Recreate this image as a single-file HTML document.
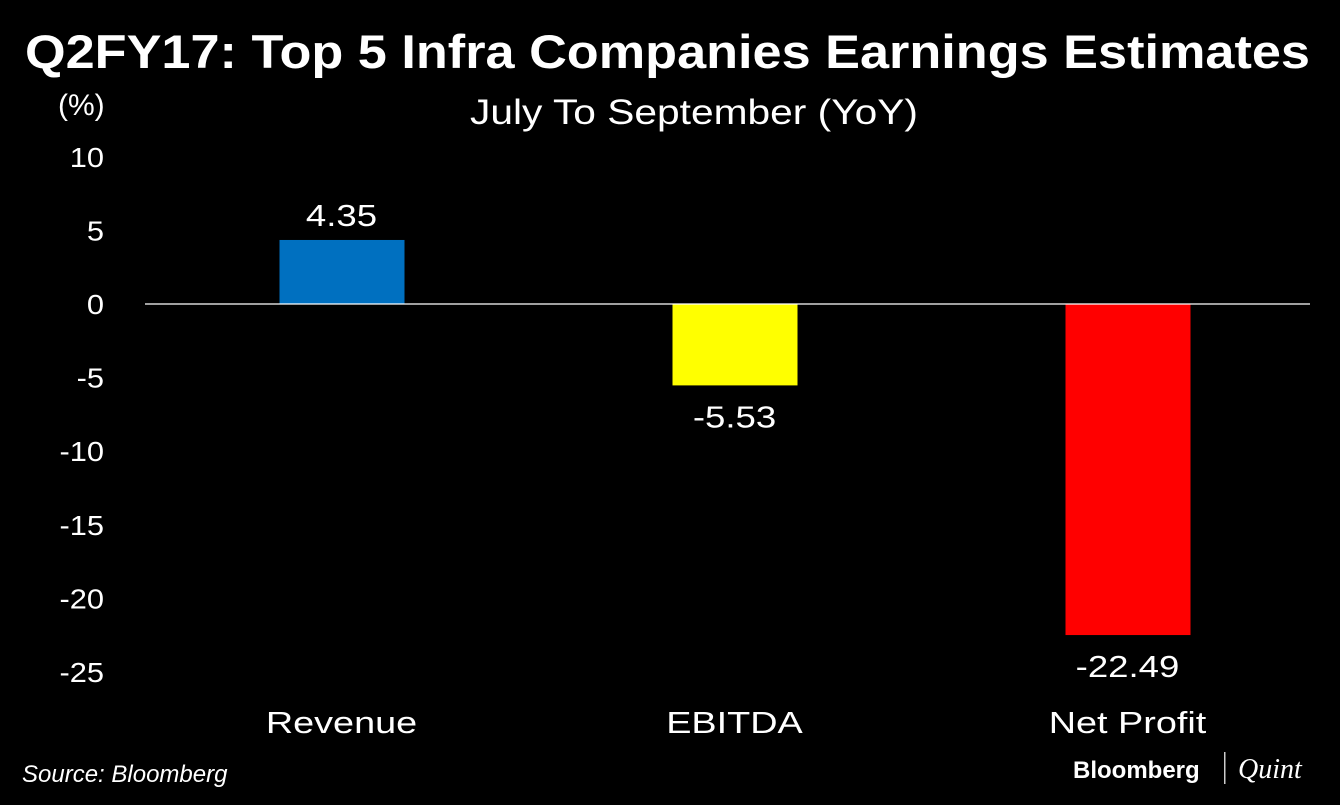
<!DOCTYPE html>
<html><head><meta charset="utf-8"><style>
body{margin:0;background:#000;width:1340px;height:800px;overflow:hidden}
svg text{font-family:"Liberation Sans",sans-serif;fill:#fff}
</style></head><body>
<svg id="c" width="1340" height="800">
<rect width="1340" height="800" fill="#000"/>
<text x="25" y="68" font-size="47" font-weight="bold" textLength="1285" lengthAdjust="spacingAndGlyphs">Q2FY17: Top 5 Infra Companies Earnings Estimates</text>
<text x="470" y="124" font-size="35" textLength="448" lengthAdjust="spacingAndGlyphs">July To September (YoY)</text>
<text x="58" y="115" font-size="30">(%)</text>
<text x="22" y="782" font-size="24" font-style="italic">Source: Bloomberg</text>
<text x="1073" y="778" font-size="24" font-weight="bold">Bloomberg</text>
<rect x="1224" y="752" width="1.5" height="32" fill="#ccc"/>
<text x="1238" y="778" font-size="28" font-style="italic" style="font-family:'Liberation Serif',serif">Quint</text>
<g id="plot"></g>
</svg>
<script>
const categories=["Revenue","EBITDA","Net Profit"];
const values=[4.35,-5.53,-22.49];
const labels=["4.35","-5.53","-22.49"];
const colors=["#0070c0","#ffff00","#ff0000"];
const ticks=[10,5,0,-5,-10,-15,-20,-25];
const ns="http://www.w3.org/2000/svg";
const g=document.getElementById('plot');
const y=v=>304-v*14.72;
const x0=145,bw=393;
const xc=i=>x0+bw*(i+0.5);
function mk(t,a){const e=document.createElementNS(ns,t);for(const k in a)e.setAttribute(k,a[k]);g.appendChild(e);return e;}
ticks.forEach(t=>{const e=mk('text',{x:104,y:y(t)+10,'text-anchor':'end','font-size':28,'transform':'scale(1.1,1)','transform-origin':'104 0'});e.textContent=t;

});
values.forEach((v,i)=>{
const top=Math.min(y(v),y(0)),h=Math.abs(y(v)-y(0));
const r=mk('rect',{x:xc(i)-62,y:top,width:125,height:h,fill:colors[i]});


const ly=v>=0?y(v)-14:y(v)+42;
const t=mk('text',{x:xc(i),y:ly,'text-anchor':'middle','font-size':31,'transform':'scale(1.18,1)','transform-origin':xc(i)+' 0'});t.textContent=labels[i];


const c=mk('text',{x:xc(i),y:733,'text-anchor':'middle','font-size':31,'transform':'scale(1.22,1)','transform-origin':xc(i)+' 0'});c.textContent=categories[i];


});
const l=mk('line',{x1:145,x2:1310,y1:y(0),y2:y(0),stroke:'#fff','stroke-width':1.2});


</script>
</body></html>
